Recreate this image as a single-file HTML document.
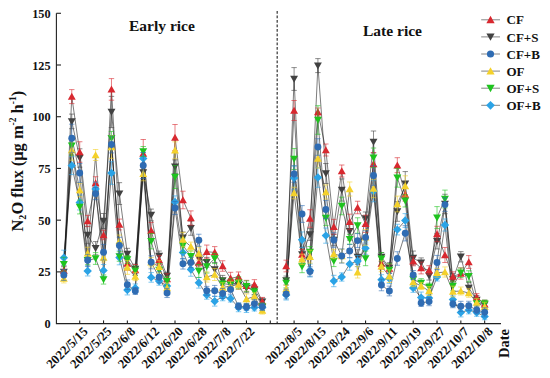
<!DOCTYPE html>
<html><head><meta charset="utf-8"><title>N2O flux</title>
<style>html,body{margin:0;padding:0;background:#fff}body{width:550px;height:378px;position:relative;overflow:hidden;font-family:"Liberation Serif",serif}</style></head>
<body>
<svg width="550" height="378" viewBox="0 0 550 378" style="position:absolute;left:0;top:0">
<rect width="550" height="378" fill="#fff"/>
<polyline points="63.84,272.00 71.78,121.40 79.72,158.00 87.66,235.00 95.60,248.20 103.54,221.00 111.48,112.00 119.42,193.60 127.36,254.00 135.30,269.00 143.24,172.50 151.18,215.00 159.12,256.00 167.06,276.00 175.00,166.80 182.94,237.70 190.88,228.20 198.82,258.00 206.76,262.30 214.70,269.50 222.64,280.40 230.58,283.00 238.52,285.00 246.46,288.00 254.40,289.80 262.34,301.80" fill="none" stroke="#111" stroke-width="0.55" stroke-linejoin="round"/>
<polyline points="286.16,280.50 294.10,79.00 302.04,254.50 309.98,234.50 317.92,65.60 325.86,173.50 333.80,240.00 341.74,190.00 349.68,231.30 357.62,257.00 365.56,218.40 373.50,142.00 381.44,257.00 389.38,268.00 397.32,211.50 405.26,183.70 413.20,258.00 421.14,262.60 429.08,275.80 437.02,241.30 444.96,204.00 452.90,279.50 460.84,256.80 468.78,288.00 476.72,300.00 484.66,304.60" fill="none" stroke="#111" stroke-width="0.55" stroke-linejoin="round"/>
<polyline points="63.84,270.50 71.78,96.60 79.72,152.00 87.66,221.00 95.60,183.00 103.54,235.00 111.48,89.40 119.42,224.50 127.36,263.50 135.30,270.00 143.24,153.50 151.18,230.50 159.12,260.00 167.06,279.00 175.00,137.50 182.94,200.00 190.88,218.00 198.82,262.50 206.76,251.70 214.70,252.40 222.64,266.00 230.58,278.30 238.52,276.80 246.46,285.80 254.40,284.60 262.34,301.50" fill="none" stroke="#111" stroke-width="0.55" stroke-linejoin="round"/>
<polyline points="286.16,266.00 294.10,110.50 302.04,254.50 309.98,218.50 317.92,112.00 325.86,150.00 333.80,226.80 341.74,171.00 349.68,221.70 357.62,207.50 365.56,223.80 373.50,164.00 381.44,263.50 389.38,268.50 397.32,165.20 405.26,194.50 413.20,261.30 421.14,268.00 429.08,270.20 437.02,234.00 444.96,255.00 452.90,276.50 460.84,273.50 468.78,262.00 476.72,297.30 484.66,304.20" fill="none" stroke="#111" stroke-width="0.55" stroke-linejoin="round"/>
<polyline points="63.84,257.70 71.78,165.60 79.72,202.50 87.66,271.00 95.60,189.00 103.54,270.40 111.48,173.00 119.42,257.50 127.36,290.00 135.30,288.00 143.24,158.50 151.18,277.40 159.12,281.00 167.06,286.00 175.00,202.00 182.94,252.40 190.88,269.50 198.82,282.80 206.76,295.00 214.70,301.30 222.64,296.60 230.58,298.60 238.52,307.50 246.46,308.00 254.40,307.50 262.34,307.20" fill="none" stroke="#111" stroke-width="0.55" stroke-linejoin="round"/>
<polyline points="286.16,295.00 294.10,178.00 302.04,239.70 309.98,270.50 317.92,177.50 325.86,235.60 333.80,281.00 341.74,277.00 349.68,264.00 357.62,261.00 365.56,248.20 373.50,191.00 381.44,279.80 389.38,278.50 397.32,229.60 405.26,220.50 413.20,288.00 421.14,297.60 429.08,298.00 437.02,277.00 444.96,225.00 452.90,299.60 460.84,312.50 468.78,310.00 476.72,312.50 484.66,316.40" fill="none" stroke="#111" stroke-width="0.55" stroke-linejoin="round"/>
<polyline points="63.84,264.20 71.78,145.80 79.72,207.00 87.66,260.30 95.60,258.50 103.54,279.50 111.48,138.20 119.42,256.50 127.36,259.50 135.30,270.70 143.24,151.50 151.18,241.20 159.12,270.00 167.06,281.00 175.00,177.00 182.94,245.40 190.88,256.20 198.82,271.00 206.76,266.40 214.70,258.50 222.64,283.60 230.58,284.60 238.52,282.60 246.46,286.30 254.40,291.60 262.34,306.60" fill="none" stroke="#111" stroke-width="0.55" stroke-linejoin="round"/>
<polyline points="286.16,283.00 294.10,159.00 302.04,266.50 309.98,252.00 317.92,120.00 325.86,218.00 333.80,261.00 341.74,206.00 349.68,239.30 357.62,225.50 365.56,258.40 373.50,157.80 381.44,258.80 389.38,269.90 397.32,177.80 405.26,200.80 413.20,279.50 421.14,283.00 429.08,287.00 437.02,217.60 444.96,199.00 452.90,286.00 460.84,272.80 468.78,276.30 476.72,303.50 484.66,303.80" fill="none" stroke="#111" stroke-width="0.55" stroke-linejoin="round"/>
<polyline points="63.84,278.50 71.78,150.00 79.72,190.00 87.66,253.30 95.60,155.00 103.54,257.50 111.48,147.00 119.42,241.00 127.36,267.40 135.30,276.50 143.24,173.80 151.18,262.30 159.12,266.70 167.06,288.00 175.00,150.30 182.94,239.60 190.88,246.60 198.82,253.60 206.76,277.00 214.70,274.50 222.64,287.50 230.58,286.00 238.52,284.60 246.46,299.00 254.40,296.40 262.34,310.60" fill="none" stroke="#111" stroke-width="0.55" stroke-linejoin="round"/>
<polyline points="286.16,289.00 294.10,193.00 302.04,259.30 309.98,256.70 317.92,158.60 325.86,192.00 333.80,254.00 341.74,256.00 349.68,189.00 357.62,272.30 365.56,237.40 373.50,188.50 381.44,266.30 389.38,276.20 397.32,204.00 405.26,186.00 413.20,282.00 421.14,286.00 429.08,291.00 437.02,272.80 444.96,272.00 452.90,291.50 460.84,291.00 468.78,293.00 476.72,302.50 484.66,306.80" fill="none" stroke="#111" stroke-width="0.55" stroke-linejoin="round"/>
<polyline points="63.84,275.00 71.78,138.30 79.72,173.00 87.66,260.30 95.60,193.60 103.54,252.20 111.48,144.50 119.42,245.50 127.36,284.70 135.30,291.00 143.24,165.50 151.18,262.30 159.12,277.30 167.06,293.00 175.00,208.00 182.94,263.80 190.88,262.50 198.82,240.30 206.76,290.80 214.70,290.80 222.64,293.50 230.58,289.40 238.52,306.20 246.46,306.80 254.40,303.60 262.34,306.80" fill="none" stroke="#111" stroke-width="0.55" stroke-linejoin="round"/>
<polyline points="286.16,294.00 294.10,174.00 302.04,214.00 309.98,271.50 317.92,147.00 325.86,209.50 333.80,240.00 341.74,256.00 349.68,251.00 357.62,240.60 365.56,237.40 373.50,175.50 381.44,285.00 389.38,291.00 397.32,258.50 405.26,233.30 413.20,275.00 421.14,303.00 429.08,301.60 437.02,262.50 444.96,204.60 452.90,304.00 460.84,306.30 468.78,305.80 476.72,310.00 484.66,312.30" fill="none" stroke="#111" stroke-width="0.55" stroke-linejoin="round"/>
<g><path d="M63.84,266.76V277.24M61.14,266.76h5.4M61.14,277.24h5.4" stroke="#414141" stroke-width="0.6" fill="none"/><path d="M71.78,114.09V128.71M69.08,114.09h5.4M69.08,128.71h5.4" stroke="#414141" stroke-width="0.6" fill="none"/><path d="M79.72,148.79V167.21M77.02,148.79h5.4M77.02,167.21h5.4" stroke="#414141" stroke-width="0.6" fill="none"/><path d="M87.66,226.21V243.79M84.96,226.21h5.4M84.96,243.79h5.4" stroke="#414141" stroke-width="0.6" fill="none"/><path d="M95.60,241.61V254.79M92.90,241.61h5.4M92.90,254.79h5.4" stroke="#414141" stroke-width="0.6" fill="none"/><path d="M103.54,213.49V228.51M100.84,213.49h5.4M100.84,228.51h5.4" stroke="#414141" stroke-width="0.6" fill="none"/><path d="M111.48,96.38V127.62M108.78,96.38h5.4M108.78,127.62h5.4" stroke="#414141" stroke-width="0.6" fill="none"/><path d="M119.42,182.66V204.54M116.72,182.66h5.4M116.72,204.54h5.4" stroke="#414141" stroke-width="0.6" fill="none"/><path d="M127.36,248.32V259.68M124.66,248.32h5.4M124.66,259.68h5.4" stroke="#414141" stroke-width="0.6" fill="none"/><path d="M135.30,264.13V273.87M132.60,264.13h5.4M132.60,273.87h5.4" stroke="#414141" stroke-width="0.6" fill="none"/><path d="M143.24,166.40V178.60M140.54,166.40h5.4M140.54,178.60h5.4" stroke="#414141" stroke-width="0.6" fill="none"/><path d="M151.18,209.08V220.92M148.48,209.08h5.4M148.48,220.92h5.4" stroke="#414141" stroke-width="0.6" fill="none"/><path d="M159.12,251.05V260.95M156.42,251.05h5.4M156.42,260.95h5.4" stroke="#414141" stroke-width="0.6" fill="none"/><path d="M167.06,272.22V279.78M164.36,272.22h5.4M164.36,279.78h5.4" stroke="#414141" stroke-width="0.6" fill="none"/><path d="M175.00,159.88V173.72M172.30,159.88h5.4M172.30,173.72h5.4" stroke="#414141" stroke-width="0.6" fill="none"/><path d="M182.94,231.98V243.42M180.24,231.98h5.4M180.24,243.42h5.4" stroke="#414141" stroke-width="0.6" fill="none"/><path d="M190.88,221.13V235.27M188.18,221.13h5.4M188.18,235.27h5.4" stroke="#414141" stroke-width="0.6" fill="none"/><path d="M198.82,252.90V263.10M196.12,252.90h5.4M196.12,263.10h5.4" stroke="#414141" stroke-width="0.6" fill="none"/><path d="M206.76,257.40V267.20M204.06,257.40h5.4M204.06,267.20h5.4" stroke="#414141" stroke-width="0.6" fill="none"/><path d="M214.70,262.49V276.51M212.00,262.49h5.4M212.00,276.51h5.4" stroke="#414141" stroke-width="0.6" fill="none"/><path d="M222.64,275.41V285.39M219.94,275.41h5.4M219.94,285.39h5.4" stroke="#414141" stroke-width="0.6" fill="none"/><path d="M230.58,279.30V286.70M227.88,279.30h5.4M227.88,286.70h5.4" stroke="#414141" stroke-width="0.6" fill="none"/><path d="M238.52,280.70V289.30M235.82,280.70h5.4M235.82,289.30h5.4" stroke="#414141" stroke-width="0.6" fill="none"/><path d="M246.46,283.27V292.73M243.76,283.27h5.4M243.76,292.73h5.4" stroke="#414141" stroke-width="0.6" fill="none"/><path d="M254.40,285.07V294.53M251.70,285.07h5.4M251.70,294.53h5.4" stroke="#414141" stroke-width="0.6" fill="none"/><path d="M262.34,298.08V305.52M259.64,298.08h5.4M259.64,305.52h5.4" stroke="#414141" stroke-width="0.6" fill="none"/><path d="M286.16,276.06V284.94M283.46,276.06h5.4M283.46,284.94h5.4" stroke="#414141" stroke-width="0.6" fill="none"/><path d="M294.10,67.60V90.40M291.40,67.60h5.4M291.40,90.40h5.4" stroke="#414141" stroke-width="0.6" fill="none"/><path d="M302.04,247.09V261.91M299.34,247.09h5.4M299.34,261.91h5.4" stroke="#414141" stroke-width="0.6" fill="none"/><path d="M309.98,228.64V240.36M307.28,228.64h5.4M307.28,240.36h5.4" stroke="#414141" stroke-width="0.6" fill="none"/><path d="M317.92,58.60V72.60M315.22,58.60h5.4M315.22,72.60h5.4" stroke="#414141" stroke-width="0.6" fill="none"/><path d="M325.86,163.53V183.47M323.16,163.53h5.4M323.16,183.47h5.4" stroke="#414141" stroke-width="0.6" fill="none"/><path d="M333.80,234.29V245.71M331.10,234.29h5.4M331.10,245.71h5.4" stroke="#414141" stroke-width="0.6" fill="none"/><path d="M341.74,178.91V201.09M339.04,178.91h5.4M339.04,201.09h5.4" stroke="#414141" stroke-width="0.6" fill="none"/><path d="M349.68,222.50V240.10M346.98,222.50h5.4M346.98,240.10h5.4" stroke="#414141" stroke-width="0.6" fill="none"/><path d="M357.62,249.78V264.22M354.92,249.78h5.4M354.92,264.22h5.4" stroke="#414141" stroke-width="0.6" fill="none"/><path d="M365.56,211.97V224.83M362.86,211.97h5.4M362.86,224.83h5.4" stroke="#414141" stroke-width="0.6" fill="none"/><path d="M373.50,131.00V153.00M370.80,131.00h5.4M370.80,153.00h5.4" stroke="#414141" stroke-width="0.6" fill="none"/><path d="M381.44,252.57V261.43M378.74,252.57h5.4M378.74,261.43h5.4" stroke="#414141" stroke-width="0.6" fill="none"/><path d="M389.38,262.67V273.33M386.68,262.67h5.4M386.68,273.33h5.4" stroke="#414141" stroke-width="0.6" fill="none"/><path d="M397.32,201.70V221.30M394.62,201.70h5.4M394.62,221.30h5.4" stroke="#414141" stroke-width="0.6" fill="none"/><path d="M405.26,171.58V195.82M402.56,171.58h5.4M402.56,195.82h5.4" stroke="#414141" stroke-width="0.6" fill="none"/><path d="M413.20,251.04V264.96M410.50,251.04h5.4M410.50,264.96h5.4" stroke="#414141" stroke-width="0.6" fill="none"/><path d="M421.14,257.90V267.30M418.44,257.90h5.4M418.44,267.30h5.4" stroke="#414141" stroke-width="0.6" fill="none"/><path d="M429.08,271.56V280.04M426.38,271.56h5.4M426.38,280.04h5.4" stroke="#414141" stroke-width="0.6" fill="none"/><path d="M437.02,233.65V248.95M434.32,233.65h5.4M434.32,248.95h5.4" stroke="#414141" stroke-width="0.6" fill="none"/><path d="M444.96,194.27V213.73M442.26,194.27h5.4M442.26,213.73h5.4" stroke="#414141" stroke-width="0.6" fill="none"/><path d="M452.90,273.67V285.33M450.20,273.67h5.4M450.20,285.33h5.4" stroke="#414141" stroke-width="0.6" fill="none"/><path d="M460.84,251.65V261.95M458.14,251.65h5.4M458.14,261.95h5.4" stroke="#414141" stroke-width="0.6" fill="none"/><path d="M468.78,282.22V293.78M466.08,282.22h5.4M466.08,293.78h5.4" stroke="#414141" stroke-width="0.6" fill="none"/><path d="M476.72,295.50V304.50M474.02,295.50h5.4M474.02,304.50h5.4" stroke="#414141" stroke-width="0.6" fill="none"/><path d="M484.66,300.30V308.90M481.96,300.30h5.4M481.96,308.90h5.4" stroke="#414141" stroke-width="0.6" fill="none"/><polygon points="59.89,268.80 67.79,268.80 63.84,275.80" fill="#414141"/><polygon points="67.83,118.20 75.73,118.20 71.78,125.20" fill="#414141"/><polygon points="75.77,154.80 83.67,154.80 79.72,161.80" fill="#414141"/><polygon points="83.71,231.80 91.61,231.80 87.66,238.80" fill="#414141"/><polygon points="91.65,245.00 99.55,245.00 95.60,252.00" fill="#414141"/><polygon points="99.59,217.80 107.49,217.80 103.54,224.80" fill="#414141"/><polygon points="107.53,108.80 115.43,108.80 111.48,115.80" fill="#414141"/><polygon points="115.47,190.40 123.37,190.40 119.42,197.40" fill="#414141"/><polygon points="123.41,250.80 131.31,250.80 127.36,257.80" fill="#414141"/><polygon points="131.35,265.80 139.25,265.80 135.30,272.80" fill="#414141"/><polygon points="139.29,169.30 147.19,169.30 143.24,176.30" fill="#414141"/><polygon points="147.23,211.80 155.13,211.80 151.18,218.80" fill="#414141"/><polygon points="155.17,252.80 163.07,252.80 159.12,259.80" fill="#414141"/><polygon points="163.11,272.80 171.01,272.80 167.06,279.80" fill="#414141"/><polygon points="171.05,163.60 178.95,163.60 175.00,170.60" fill="#414141"/><polygon points="178.99,234.50 186.89,234.50 182.94,241.50" fill="#414141"/><polygon points="186.93,225.00 194.83,225.00 190.88,232.00" fill="#414141"/><polygon points="194.87,254.80 202.77,254.80 198.82,261.80" fill="#414141"/><polygon points="202.81,259.10 210.71,259.10 206.76,266.10" fill="#414141"/><polygon points="210.75,266.30 218.65,266.30 214.70,273.30" fill="#414141"/><polygon points="218.69,277.20 226.59,277.20 222.64,284.20" fill="#414141"/><polygon points="226.63,279.80 234.53,279.80 230.58,286.80" fill="#414141"/><polygon points="234.57,281.80 242.47,281.80 238.52,288.80" fill="#414141"/><polygon points="242.51,284.80 250.41,284.80 246.46,291.80" fill="#414141"/><polygon points="250.45,286.60 258.35,286.60 254.40,293.60" fill="#414141"/><polygon points="258.39,298.60 266.29,298.60 262.34,305.60" fill="#414141"/><polygon points="282.21,277.30 290.11,277.30 286.16,284.30" fill="#414141"/><polygon points="290.15,75.80 298.05,75.80 294.10,82.80" fill="#414141"/><polygon points="298.09,251.30 305.99,251.30 302.04,258.30" fill="#414141"/><polygon points="306.03,231.30 313.93,231.30 309.98,238.30" fill="#414141"/><polygon points="313.97,62.40 321.87,62.40 317.92,69.40" fill="#414141"/><polygon points="321.91,170.30 329.81,170.30 325.86,177.30" fill="#414141"/><polygon points="329.85,236.80 337.75,236.80 333.80,243.80" fill="#414141"/><polygon points="337.79,186.80 345.69,186.80 341.74,193.80" fill="#414141"/><polygon points="345.73,228.10 353.63,228.10 349.68,235.10" fill="#414141"/><polygon points="353.67,253.80 361.57,253.80 357.62,260.80" fill="#414141"/><polygon points="361.61,215.20 369.51,215.20 365.56,222.20" fill="#414141"/><polygon points="369.55,138.80 377.45,138.80 373.50,145.80" fill="#414141"/><polygon points="377.49,253.80 385.39,253.80 381.44,260.80" fill="#414141"/><polygon points="385.43,264.80 393.33,264.80 389.38,271.80" fill="#414141"/><polygon points="393.37,208.30 401.27,208.30 397.32,215.30" fill="#414141"/><polygon points="401.31,180.50 409.21,180.50 405.26,187.50" fill="#414141"/><polygon points="409.25,254.80 417.15,254.80 413.20,261.80" fill="#414141"/><polygon points="417.19,259.40 425.09,259.40 421.14,266.40" fill="#414141"/><polygon points="425.13,272.60 433.03,272.60 429.08,279.60" fill="#414141"/><polygon points="433.07,238.10 440.97,238.10 437.02,245.10" fill="#414141"/><polygon points="441.01,200.80 448.91,200.80 444.96,207.80" fill="#414141"/><polygon points="448.95,276.30 456.85,276.30 452.90,283.30" fill="#414141"/><polygon points="456.89,253.60 464.79,253.60 460.84,260.60" fill="#414141"/><polygon points="464.83,284.80 472.73,284.80 468.78,291.80" fill="#414141"/><polygon points="472.77,296.80 480.67,296.80 476.72,303.80" fill="#414141"/><polygon points="480.71,301.40 488.61,301.40 484.66,308.40" fill="#414141"/></g>
<g><path d="M63.84,265.92V275.08M61.14,265.92h5.4M61.14,275.08h5.4" stroke="#d8282f" stroke-width="0.6" fill="none"/><path d="M71.78,89.60V103.60M69.08,89.60h5.4M69.08,103.60h5.4" stroke="#d8282f" stroke-width="0.6" fill="none"/><path d="M79.72,141.74V162.26M77.02,141.74h5.4M77.02,162.26h5.4" stroke="#d8282f" stroke-width="0.6" fill="none"/><path d="M87.66,215.35V226.65M84.96,215.35h5.4M84.96,226.65h5.4" stroke="#d8282f" stroke-width="0.6" fill="none"/><path d="M95.60,176.73V189.27M92.90,176.73h5.4M92.90,189.27h5.4" stroke="#d8282f" stroke-width="0.6" fill="none"/><path d="M103.54,230.24V239.76M100.84,230.24h5.4M100.84,239.76h5.4" stroke="#d8282f" stroke-width="0.6" fill="none"/><path d="M111.48,78.60V100.20M108.78,78.60h5.4M108.78,100.20h5.4" stroke="#d8282f" stroke-width="0.6" fill="none"/><path d="M119.42,219.09V229.91M116.72,219.09h5.4M116.72,229.91h5.4" stroke="#d8282f" stroke-width="0.6" fill="none"/><path d="M127.36,256.77V270.23M124.66,256.77h5.4M124.66,270.23h5.4" stroke="#d8282f" stroke-width="0.6" fill="none"/><path d="M135.30,264.50V275.50M132.60,264.50h5.4M132.60,275.50h5.4" stroke="#d8282f" stroke-width="0.6" fill="none"/><path d="M143.24,139.50V167.50M140.54,139.50h5.4M140.54,167.50h5.4" stroke="#d8282f" stroke-width="0.6" fill="none"/><path d="M151.18,222.41V238.59M148.48,222.41h5.4M148.48,238.59h5.4" stroke="#d8282f" stroke-width="0.6" fill="none"/><path d="M159.12,255.58V264.42M156.42,255.58h5.4M156.42,264.42h5.4" stroke="#d8282f" stroke-width="0.6" fill="none"/><path d="M167.06,273.73V284.27M164.36,273.73h5.4M164.36,284.27h5.4" stroke="#d8282f" stroke-width="0.6" fill="none"/><path d="M175.00,124.50V150.50M172.30,124.50h5.4M172.30,150.50h5.4" stroke="#d8282f" stroke-width="0.6" fill="none"/><path d="M182.94,191.21V208.79M180.24,191.21h5.4M180.24,208.79h5.4" stroke="#d8282f" stroke-width="0.6" fill="none"/><path d="M190.88,210.88V225.12M188.18,210.88h5.4M188.18,225.12h5.4" stroke="#d8282f" stroke-width="0.6" fill="none"/><path d="M198.82,258.22V266.78M196.12,258.22h5.4M196.12,266.78h5.4" stroke="#d8282f" stroke-width="0.6" fill="none"/><path d="M206.76,245.06V258.34M204.06,245.06h5.4M204.06,258.34h5.4" stroke="#d8282f" stroke-width="0.6" fill="none"/><path d="M214.70,246.60V258.20M212.00,246.60h5.4M212.00,258.20h5.4" stroke="#d8282f" stroke-width="0.6" fill="none"/><path d="M222.64,260.75V271.25M219.94,260.75h5.4M219.94,271.25h5.4" stroke="#d8282f" stroke-width="0.6" fill="none"/><path d="M230.58,272.31V284.29M227.88,272.31h5.4M227.88,284.29h5.4" stroke="#d8282f" stroke-width="0.6" fill="none"/><path d="M238.52,271.95V281.65M235.82,271.95h5.4M235.82,281.65h5.4" stroke="#d8282f" stroke-width="0.6" fill="none"/><path d="M246.46,280.34V291.26M243.76,280.34h5.4M243.76,291.26h5.4" stroke="#d8282f" stroke-width="0.6" fill="none"/><path d="M254.40,279.65V289.55M251.70,279.65h5.4M251.70,289.55h5.4" stroke="#d8282f" stroke-width="0.6" fill="none"/><path d="M262.34,297.41V305.59M259.64,297.41h5.4M259.64,305.59h5.4" stroke="#d8282f" stroke-width="0.6" fill="none"/><path d="M286.16,260.15V271.85M283.46,260.15h5.4M283.46,271.85h5.4" stroke="#d8282f" stroke-width="0.6" fill="none"/><path d="M294.10,100.50V120.50M291.40,100.50h5.4M291.40,120.50h5.4" stroke="#d8282f" stroke-width="0.6" fill="none"/><path d="M302.04,249.41V259.59M299.34,249.41h5.4M299.34,259.59h5.4" stroke="#d8282f" stroke-width="0.6" fill="none"/><path d="M309.98,209.72V227.28M307.28,209.72h5.4M307.28,227.28h5.4" stroke="#d8282f" stroke-width="0.6" fill="none"/><path d="M317.92,108.00V116.00M315.22,108.00h5.4M315.22,116.00h5.4" stroke="#d8282f" stroke-width="0.6" fill="none"/><path d="M325.86,144.00V156.00M323.16,144.00h5.4M323.16,156.00h5.4" stroke="#d8282f" stroke-width="0.6" fill="none"/><path d="M333.80,219.33V234.27M331.10,219.33h5.4M331.10,234.27h5.4" stroke="#d8282f" stroke-width="0.6" fill="none"/><path d="M341.74,165.00V177.00M339.04,165.00h5.4M339.04,177.00h5.4" stroke="#d8282f" stroke-width="0.6" fill="none"/><path d="M349.68,214.13V229.27M346.98,214.13h5.4M346.98,229.27h5.4" stroke="#d8282f" stroke-width="0.6" fill="none"/><path d="M357.62,201.24V213.76M354.92,201.24h5.4M354.92,213.76h5.4" stroke="#d8282f" stroke-width="0.6" fill="none"/><path d="M365.56,215.13V232.47M362.86,215.13h5.4M362.86,232.47h5.4" stroke="#d8282f" stroke-width="0.6" fill="none"/><path d="M373.50,152.53V175.47M370.80,152.53h5.4M370.80,175.47h5.4" stroke="#d8282f" stroke-width="0.6" fill="none"/><path d="M381.44,257.77V269.23M378.74,257.77h5.4M378.74,269.23h5.4" stroke="#d8282f" stroke-width="0.6" fill="none"/><path d="M389.38,264.06V272.94M386.68,264.06h5.4M386.68,272.94h5.4" stroke="#d8282f" stroke-width="0.6" fill="none"/><path d="M397.32,157.70V172.70M394.62,157.70h5.4M394.62,172.70h5.4" stroke="#d8282f" stroke-width="0.6" fill="none"/><path d="M405.26,187.86V201.14M402.56,187.86h5.4M402.56,201.14h5.4" stroke="#d8282f" stroke-width="0.6" fill="none"/><path d="M413.20,256.76V265.84M410.50,256.76h5.4M410.50,265.84h5.4" stroke="#d8282f" stroke-width="0.6" fill="none"/><path d="M421.14,262.11V273.89M418.44,262.11h5.4M418.44,273.89h5.4" stroke="#d8282f" stroke-width="0.6" fill="none"/><path d="M429.08,265.69V274.71M426.38,265.69h5.4M426.38,274.71h5.4" stroke="#d8282f" stroke-width="0.6" fill="none"/><path d="M437.02,226.31V241.69M434.32,226.31h5.4M434.32,241.69h5.4" stroke="#d8282f" stroke-width="0.6" fill="none"/><path d="M444.96,247.48V262.52M442.26,247.48h5.4M442.26,262.52h5.4" stroke="#d8282f" stroke-width="0.6" fill="none"/><path d="M452.90,271.81V281.19M450.20,271.81h5.4M450.20,281.19h5.4" stroke="#d8282f" stroke-width="0.6" fill="none"/><path d="M460.84,267.85V279.15M458.14,267.85h5.4M458.14,279.15h5.4" stroke="#d8282f" stroke-width="0.6" fill="none"/><path d="M468.78,255.58V268.42M466.08,255.58h5.4M466.08,268.42h5.4" stroke="#d8282f" stroke-width="0.6" fill="none"/><path d="M476.72,293.64V300.96M474.02,293.64h5.4M474.02,300.96h5.4" stroke="#d8282f" stroke-width="0.6" fill="none"/><path d="M484.66,300.30V308.10M481.96,300.30h5.4M481.96,308.10h5.4" stroke="#d8282f" stroke-width="0.6" fill="none"/><polygon points="59.89,273.70 67.79,273.70 63.84,266.70" fill="#d8282f"/><polygon points="67.83,99.80 75.73,99.80 71.78,92.80" fill="#d8282f"/><polygon points="75.77,155.20 83.67,155.20 79.72,148.20" fill="#d8282f"/><polygon points="83.71,224.20 91.61,224.20 87.66,217.20" fill="#d8282f"/><polygon points="91.65,186.20 99.55,186.20 95.60,179.20" fill="#d8282f"/><polygon points="99.59,238.20 107.49,238.20 103.54,231.20" fill="#d8282f"/><polygon points="107.53,92.60 115.43,92.60 111.48,85.60" fill="#d8282f"/><polygon points="115.47,227.70 123.37,227.70 119.42,220.70" fill="#d8282f"/><polygon points="123.41,266.70 131.31,266.70 127.36,259.70" fill="#d8282f"/><polygon points="131.35,273.20 139.25,273.20 135.30,266.20" fill="#d8282f"/><polygon points="139.29,156.70 147.19,156.70 143.24,149.70" fill="#d8282f"/><polygon points="147.23,233.70 155.13,233.70 151.18,226.70" fill="#d8282f"/><polygon points="155.17,263.20 163.07,263.20 159.12,256.20" fill="#d8282f"/><polygon points="163.11,282.20 171.01,282.20 167.06,275.20" fill="#d8282f"/><polygon points="171.05,140.70 178.95,140.70 175.00,133.70" fill="#d8282f"/><polygon points="178.99,203.20 186.89,203.20 182.94,196.20" fill="#d8282f"/><polygon points="186.93,221.20 194.83,221.20 190.88,214.20" fill="#d8282f"/><polygon points="194.87,265.70 202.77,265.70 198.82,258.70" fill="#d8282f"/><polygon points="202.81,254.90 210.71,254.90 206.76,247.90" fill="#d8282f"/><polygon points="210.75,255.60 218.65,255.60 214.70,248.60" fill="#d8282f"/><polygon points="218.69,269.20 226.59,269.20 222.64,262.20" fill="#d8282f"/><polygon points="226.63,281.50 234.53,281.50 230.58,274.50" fill="#d8282f"/><polygon points="234.57,280.00 242.47,280.00 238.52,273.00" fill="#d8282f"/><polygon points="242.51,289.00 250.41,289.00 246.46,282.00" fill="#d8282f"/><polygon points="250.45,287.80 258.35,287.80 254.40,280.80" fill="#d8282f"/><polygon points="258.39,304.70 266.29,304.70 262.34,297.70" fill="#d8282f"/><polygon points="282.21,269.20 290.11,269.20 286.16,262.20" fill="#d8282f"/><polygon points="290.15,113.70 298.05,113.70 294.10,106.70" fill="#d8282f"/><polygon points="298.09,257.70 305.99,257.70 302.04,250.70" fill="#d8282f"/><polygon points="306.03,221.70 313.93,221.70 309.98,214.70" fill="#d8282f"/><polygon points="313.97,115.20 321.87,115.20 317.92,108.20" fill="#d8282f"/><polygon points="321.91,153.20 329.81,153.20 325.86,146.20" fill="#d8282f"/><polygon points="329.85,230.00 337.75,230.00 333.80,223.00" fill="#d8282f"/><polygon points="337.79,174.20 345.69,174.20 341.74,167.20" fill="#d8282f"/><polygon points="345.73,224.90 353.63,224.90 349.68,217.90" fill="#d8282f"/><polygon points="353.67,210.70 361.57,210.70 357.62,203.70" fill="#d8282f"/><polygon points="361.61,227.00 369.51,227.00 365.56,220.00" fill="#d8282f"/><polygon points="369.55,167.20 377.45,167.20 373.50,160.20" fill="#d8282f"/><polygon points="377.49,266.70 385.39,266.70 381.44,259.70" fill="#d8282f"/><polygon points="385.43,271.70 393.33,271.70 389.38,264.70" fill="#d8282f"/><polygon points="393.37,168.40 401.27,168.40 397.32,161.40" fill="#d8282f"/><polygon points="401.31,197.70 409.21,197.70 405.26,190.70" fill="#d8282f"/><polygon points="409.25,264.50 417.15,264.50 413.20,257.50" fill="#d8282f"/><polygon points="417.19,271.20 425.09,271.20 421.14,264.20" fill="#d8282f"/><polygon points="425.13,273.40 433.03,273.40 429.08,266.40" fill="#d8282f"/><polygon points="433.07,237.20 440.97,237.20 437.02,230.20" fill="#d8282f"/><polygon points="441.01,258.20 448.91,258.20 444.96,251.20" fill="#d8282f"/><polygon points="448.95,279.70 456.85,279.70 452.90,272.70" fill="#d8282f"/><polygon points="456.89,276.70 464.79,276.70 460.84,269.70" fill="#d8282f"/><polygon points="464.83,265.20 472.73,265.20 468.78,258.20" fill="#d8282f"/><polygon points="472.77,300.50 480.67,300.50 476.72,293.50" fill="#d8282f"/><polygon points="480.71,307.40 488.61,307.40 484.66,300.40" fill="#d8282f"/></g>
<g><path d="M63.84,250.17V265.23M61.14,250.17h5.4M61.14,265.23h5.4" stroke="#2ba3e6" stroke-width="0.6" fill="none"/><path d="M71.78,156.60V174.60M69.08,156.60h5.4M69.08,174.60h5.4" stroke="#2ba3e6" stroke-width="0.6" fill="none"/><path d="M79.72,195.04V209.96M77.02,195.04h5.4M77.02,209.96h5.4" stroke="#2ba3e6" stroke-width="0.6" fill="none"/><path d="M87.66,266.03V275.97M84.96,266.03h5.4M84.96,275.97h5.4" stroke="#2ba3e6" stroke-width="0.6" fill="none"/><path d="M95.60,182.16V195.84M92.90,182.16h5.4M92.90,195.84h5.4" stroke="#2ba3e6" stroke-width="0.6" fill="none"/><path d="M103.54,264.51V276.29M100.84,264.51h5.4M100.84,276.29h5.4" stroke="#2ba3e6" stroke-width="0.6" fill="none"/><path d="M111.48,161.68V184.32M108.78,161.68h5.4M108.78,184.32h5.4" stroke="#2ba3e6" stroke-width="0.6" fill="none"/><path d="M119.42,250.18V264.82M116.72,250.18h5.4M116.72,264.82h5.4" stroke="#2ba3e6" stroke-width="0.6" fill="none"/><path d="M127.36,285.07V294.93M124.66,285.07h5.4M124.66,294.93h5.4" stroke="#2ba3e6" stroke-width="0.6" fill="none"/><path d="M135.30,283.96V292.04M132.60,283.96h5.4M132.60,292.04h5.4" stroke="#2ba3e6" stroke-width="0.6" fill="none"/><path d="M143.24,152.50V164.50M140.54,152.50h5.4M140.54,164.50h5.4" stroke="#2ba3e6" stroke-width="0.6" fill="none"/><path d="M151.18,272.59V282.21M148.48,272.59h5.4M148.48,282.21h5.4" stroke="#2ba3e6" stroke-width="0.6" fill="none"/><path d="M159.12,276.79V285.21M156.42,276.79h5.4M156.42,285.21h5.4" stroke="#2ba3e6" stroke-width="0.6" fill="none"/><path d="M167.06,280.91V291.09M164.36,280.91h5.4M164.36,291.09h5.4" stroke="#2ba3e6" stroke-width="0.6" fill="none"/><path d="M175.00,195.83V208.17M172.30,195.83h5.4M172.30,208.17h5.4" stroke="#2ba3e6" stroke-width="0.6" fill="none"/><path d="M182.94,245.81V258.99M180.24,245.81h5.4M180.24,258.99h5.4" stroke="#2ba3e6" stroke-width="0.6" fill="none"/><path d="M190.88,262.74V276.26M188.18,262.74h5.4M188.18,276.26h5.4" stroke="#2ba3e6" stroke-width="0.6" fill="none"/><path d="M198.82,277.48V288.12M196.12,277.48h5.4M196.12,288.12h5.4" stroke="#2ba3e6" stroke-width="0.6" fill="none"/><path d="M206.76,290.81V299.19M204.06,290.81h5.4M204.06,299.19h5.4" stroke="#2ba3e6" stroke-width="0.6" fill="none"/><path d="M214.70,296.48V306.12M212.00,296.48h5.4M212.00,306.12h5.4" stroke="#2ba3e6" stroke-width="0.6" fill="none"/><path d="M222.64,292.43V300.77M219.94,292.43h5.4M219.94,300.77h5.4" stroke="#2ba3e6" stroke-width="0.6" fill="none"/><path d="M230.58,295.15V302.05M227.88,295.15h5.4M227.88,302.05h5.4" stroke="#2ba3e6" stroke-width="0.6" fill="none"/><path d="M238.52,303.26V311.74M235.82,303.26h5.4M235.82,311.74h5.4" stroke="#2ba3e6" stroke-width="0.6" fill="none"/><path d="M246.46,303.51V312.49M243.76,303.51h5.4M243.76,312.49h5.4" stroke="#2ba3e6" stroke-width="0.6" fill="none"/><path d="M254.40,304.02V310.98M251.70,304.02h5.4M251.70,310.98h5.4" stroke="#2ba3e6" stroke-width="0.6" fill="none"/><path d="M262.34,303.65V310.75M259.64,303.65h5.4M259.64,310.75h5.4" stroke="#2ba3e6" stroke-width="0.6" fill="none"/><path d="M286.16,289.97V300.03M283.46,289.97h5.4M283.46,300.03h5.4" stroke="#2ba3e6" stroke-width="0.6" fill="none"/><path d="M294.10,166.12V189.88M291.40,166.12h5.4M291.40,189.88h5.4" stroke="#2ba3e6" stroke-width="0.6" fill="none"/><path d="M302.04,231.93V247.47M299.34,231.93h5.4M299.34,247.47h5.4" stroke="#2ba3e6" stroke-width="0.6" fill="none"/><path d="M309.98,264.02V276.98M307.28,264.02h5.4M307.28,276.98h5.4" stroke="#2ba3e6" stroke-width="0.6" fill="none"/><path d="M317.92,167.70V187.30M315.22,167.70h5.4M315.22,187.30h5.4" stroke="#2ba3e6" stroke-width="0.6" fill="none"/><path d="M325.86,227.99V243.21M323.16,227.99h5.4M323.16,243.21h5.4" stroke="#2ba3e6" stroke-width="0.6" fill="none"/><path d="M333.80,275.30V286.70M331.10,275.30h5.4M331.10,286.70h5.4" stroke="#2ba3e6" stroke-width="0.6" fill="none"/><path d="M341.74,272.86V281.14M339.04,272.86h5.4M339.04,281.14h5.4" stroke="#2ba3e6" stroke-width="0.6" fill="none"/><path d="M349.68,257.81V270.19M346.98,257.81h5.4M346.98,270.19h5.4" stroke="#2ba3e6" stroke-width="0.6" fill="none"/><path d="M357.62,255.45V266.55M354.92,255.45h5.4M354.92,266.55h5.4" stroke="#2ba3e6" stroke-width="0.6" fill="none"/><path d="M365.56,242.09V254.31M362.86,242.09h5.4M362.86,254.31h5.4" stroke="#2ba3e6" stroke-width="0.6" fill="none"/><path d="M373.50,180.18V201.82M370.80,180.18h5.4M370.80,201.82h5.4" stroke="#2ba3e6" stroke-width="0.6" fill="none"/><path d="M381.44,274.72V284.88M378.74,274.72h5.4M378.74,284.88h5.4" stroke="#2ba3e6" stroke-width="0.6" fill="none"/><path d="M389.38,273.40V283.60M386.68,273.40h5.4M386.68,283.60h5.4" stroke="#2ba3e6" stroke-width="0.6" fill="none"/><path d="M397.32,224.25V234.95M394.62,224.25h5.4M394.62,234.95h5.4" stroke="#2ba3e6" stroke-width="0.6" fill="none"/><path d="M405.26,213.62V227.38M402.56,213.62h5.4M402.56,227.38h5.4" stroke="#2ba3e6" stroke-width="0.6" fill="none"/><path d="M413.20,283.65V292.35M410.50,283.65h5.4M410.50,292.35h5.4" stroke="#2ba3e6" stroke-width="0.6" fill="none"/><path d="M421.14,292.04V303.16M418.44,292.04h5.4M418.44,303.16h5.4" stroke="#2ba3e6" stroke-width="0.6" fill="none"/><path d="M429.08,294.22V301.78M426.38,294.22h5.4M426.38,301.78h5.4" stroke="#2ba3e6" stroke-width="0.6" fill="none"/><path d="M437.02,272.97V281.03M434.32,272.97h5.4M434.32,281.03h5.4" stroke="#2ba3e6" stroke-width="0.6" fill="none"/><path d="M444.96,218.94V231.06M442.26,218.94h5.4M442.26,231.06h5.4" stroke="#2ba3e6" stroke-width="0.6" fill="none"/><path d="M452.90,295.90V303.30M450.20,295.90h5.4M450.20,303.30h5.4" stroke="#2ba3e6" stroke-width="0.6" fill="none"/><path d="M460.84,308.09V316.91M458.14,308.09h5.4M458.14,316.91h5.4" stroke="#2ba3e6" stroke-width="0.6" fill="none"/><path d="M468.78,306.10V313.90M466.08,306.10h5.4M466.08,313.90h5.4" stroke="#2ba3e6" stroke-width="0.6" fill="none"/><path d="M476.72,308.71V316.29M474.02,308.71h5.4M474.02,316.29h5.4" stroke="#2ba3e6" stroke-width="0.6" fill="none"/><path d="M484.66,313.04V319.76M481.96,313.04h5.4M481.96,319.76h5.4" stroke="#2ba3e6" stroke-width="0.6" fill="none"/><polygon points="59.64,257.70 63.84,253.50 68.04,257.70 63.84,261.90" fill="#2ba3e6"/><polygon points="67.58,165.60 71.78,161.40 75.98,165.60 71.78,169.80" fill="#2ba3e6"/><polygon points="75.52,202.50 79.72,198.30 83.92,202.50 79.72,206.70" fill="#2ba3e6"/><polygon points="83.46,271.00 87.66,266.80 91.86,271.00 87.66,275.20" fill="#2ba3e6"/><polygon points="91.40,189.00 95.60,184.80 99.80,189.00 95.60,193.20" fill="#2ba3e6"/><polygon points="99.34,270.40 103.54,266.20 107.74,270.40 103.54,274.60" fill="#2ba3e6"/><polygon points="107.28,173.00 111.48,168.80 115.68,173.00 111.48,177.20" fill="#2ba3e6"/><polygon points="115.22,257.50 119.42,253.30 123.62,257.50 119.42,261.70" fill="#2ba3e6"/><polygon points="123.16,290.00 127.36,285.80 131.56,290.00 127.36,294.20" fill="#2ba3e6"/><polygon points="131.10,288.00 135.30,283.80 139.50,288.00 135.30,292.20" fill="#2ba3e6"/><polygon points="139.04,158.50 143.24,154.30 147.44,158.50 143.24,162.70" fill="#2ba3e6"/><polygon points="146.98,277.40 151.18,273.20 155.38,277.40 151.18,281.60" fill="#2ba3e6"/><polygon points="154.92,281.00 159.12,276.80 163.32,281.00 159.12,285.20" fill="#2ba3e6"/><polygon points="162.86,286.00 167.06,281.80 171.26,286.00 167.06,290.20" fill="#2ba3e6"/><polygon points="170.80,202.00 175.00,197.80 179.20,202.00 175.00,206.20" fill="#2ba3e6"/><polygon points="178.74,252.40 182.94,248.20 187.14,252.40 182.94,256.60" fill="#2ba3e6"/><polygon points="186.68,269.50 190.88,265.30 195.08,269.50 190.88,273.70" fill="#2ba3e6"/><polygon points="194.62,282.80 198.82,278.60 203.02,282.80 198.82,287.00" fill="#2ba3e6"/><polygon points="202.56,295.00 206.76,290.80 210.96,295.00 206.76,299.20" fill="#2ba3e6"/><polygon points="210.50,301.30 214.70,297.10 218.90,301.30 214.70,305.50" fill="#2ba3e6"/><polygon points="218.44,296.60 222.64,292.40 226.84,296.60 222.64,300.80" fill="#2ba3e6"/><polygon points="226.38,298.60 230.58,294.40 234.78,298.60 230.58,302.80" fill="#2ba3e6"/><polygon points="234.32,307.50 238.52,303.30 242.72,307.50 238.52,311.70" fill="#2ba3e6"/><polygon points="242.26,308.00 246.46,303.80 250.66,308.00 246.46,312.20" fill="#2ba3e6"/><polygon points="250.20,307.50 254.40,303.30 258.60,307.50 254.40,311.70" fill="#2ba3e6"/><polygon points="258.14,307.20 262.34,303.00 266.54,307.20 262.34,311.40" fill="#2ba3e6"/><polygon points="281.96,295.00 286.16,290.80 290.36,295.00 286.16,299.20" fill="#2ba3e6"/><polygon points="289.90,178.00 294.10,173.80 298.30,178.00 294.10,182.20" fill="#2ba3e6"/><polygon points="297.84,239.70 302.04,235.50 306.24,239.70 302.04,243.90" fill="#2ba3e6"/><polygon points="305.78,270.50 309.98,266.30 314.18,270.50 309.98,274.70" fill="#2ba3e6"/><polygon points="313.72,177.50 317.92,173.30 322.12,177.50 317.92,181.70" fill="#2ba3e6"/><polygon points="321.66,235.60 325.86,231.40 330.06,235.60 325.86,239.80" fill="#2ba3e6"/><polygon points="329.60,281.00 333.80,276.80 338.00,281.00 333.80,285.20" fill="#2ba3e6"/><polygon points="337.54,277.00 341.74,272.80 345.94,277.00 341.74,281.20" fill="#2ba3e6"/><polygon points="345.48,264.00 349.68,259.80 353.88,264.00 349.68,268.20" fill="#2ba3e6"/><polygon points="353.42,261.00 357.62,256.80 361.82,261.00 357.62,265.20" fill="#2ba3e6"/><polygon points="361.36,248.20 365.56,244.00 369.76,248.20 365.56,252.40" fill="#2ba3e6"/><polygon points="369.30,191.00 373.50,186.80 377.70,191.00 373.50,195.20" fill="#2ba3e6"/><polygon points="377.24,279.80 381.44,275.60 385.64,279.80 381.44,284.00" fill="#2ba3e6"/><polygon points="385.18,278.50 389.38,274.30 393.58,278.50 389.38,282.70" fill="#2ba3e6"/><polygon points="393.12,229.60 397.32,225.40 401.52,229.60 397.32,233.80" fill="#2ba3e6"/><polygon points="401.06,220.50 405.26,216.30 409.46,220.50 405.26,224.70" fill="#2ba3e6"/><polygon points="409.00,288.00 413.20,283.80 417.40,288.00 413.20,292.20" fill="#2ba3e6"/><polygon points="416.94,297.60 421.14,293.40 425.34,297.60 421.14,301.80" fill="#2ba3e6"/><polygon points="424.88,298.00 429.08,293.80 433.28,298.00 429.08,302.20" fill="#2ba3e6"/><polygon points="432.82,277.00 437.02,272.80 441.22,277.00 437.02,281.20" fill="#2ba3e6"/><polygon points="440.76,225.00 444.96,220.80 449.16,225.00 444.96,229.20" fill="#2ba3e6"/><polygon points="448.70,299.60 452.90,295.40 457.10,299.60 452.90,303.80" fill="#2ba3e6"/><polygon points="456.64,312.50 460.84,308.30 465.04,312.50 460.84,316.70" fill="#2ba3e6"/><polygon points="464.58,310.00 468.78,305.80 472.98,310.00 468.78,314.20" fill="#2ba3e6"/><polygon points="472.52,312.50 476.72,308.30 480.92,312.50 476.72,316.70" fill="#2ba3e6"/><polygon points="480.46,316.40 484.66,312.20 488.86,316.40 484.66,320.60" fill="#2ba3e6"/></g>
<g><path d="M63.84,257.28V271.12M61.14,257.28h5.4M61.14,271.12h5.4" stroke="#1ec31e" stroke-width="0.6" fill="none"/><path d="M71.78,136.46V155.14M69.08,136.46h5.4M69.08,155.14h5.4" stroke="#1ec31e" stroke-width="0.6" fill="none"/><path d="M79.72,200.09V213.91M77.02,200.09h5.4M77.02,213.91h5.4" stroke="#1ec31e" stroke-width="0.6" fill="none"/><path d="M87.66,255.86V264.74M84.96,255.86h5.4M84.96,264.74h5.4" stroke="#1ec31e" stroke-width="0.6" fill="none"/><path d="M95.60,252.61V264.39M92.90,252.61h5.4M92.90,264.39h5.4" stroke="#1ec31e" stroke-width="0.6" fill="none"/><path d="M103.54,274.91V284.09M100.84,274.91h5.4M100.84,284.09h5.4" stroke="#1ec31e" stroke-width="0.6" fill="none"/><path d="M111.48,131.46V144.94M108.78,131.46h5.4M108.78,144.94h5.4" stroke="#1ec31e" stroke-width="0.6" fill="none"/><path d="M119.42,251.72V261.28M116.72,251.72h5.4M116.72,261.28h5.4" stroke="#1ec31e" stroke-width="0.6" fill="none"/><path d="M127.36,255.48V263.52M124.66,255.48h5.4M124.66,263.52h5.4" stroke="#1ec31e" stroke-width="0.6" fill="none"/><path d="M135.30,266.05V275.35M132.60,266.05h5.4M132.60,275.35h5.4" stroke="#1ec31e" stroke-width="0.6" fill="none"/><path d="M143.24,146.50V156.50M140.54,146.50h5.4M140.54,156.50h5.4" stroke="#1ec31e" stroke-width="0.6" fill="none"/><path d="M151.18,233.49V248.91M148.48,233.49h5.4M148.48,248.91h5.4" stroke="#1ec31e" stroke-width="0.6" fill="none"/><path d="M159.12,263.47V276.53M156.42,263.47h5.4M156.42,276.53h5.4" stroke="#1ec31e" stroke-width="0.6" fill="none"/><path d="M167.06,276.40V285.60M164.36,276.40h5.4M164.36,285.60h5.4" stroke="#1ec31e" stroke-width="0.6" fill="none"/><path d="M175.00,165.47V188.53M172.30,165.47h5.4M172.30,188.53h5.4" stroke="#1ec31e" stroke-width="0.6" fill="none"/><path d="M182.94,238.01V252.79M180.24,238.01h5.4M180.24,252.79h5.4" stroke="#1ec31e" stroke-width="0.6" fill="none"/><path d="M190.88,250.88V261.52M188.18,250.88h5.4M188.18,261.52h5.4" stroke="#1ec31e" stroke-width="0.6" fill="none"/><path d="M198.82,264.53V277.47M196.12,264.53h5.4M196.12,277.47h5.4" stroke="#1ec31e" stroke-width="0.6" fill="none"/><path d="M206.76,259.76V273.04M204.06,259.76h5.4M204.06,273.04h5.4" stroke="#1ec31e" stroke-width="0.6" fill="none"/><path d="M214.70,253.45V263.55M212.00,253.45h5.4M212.00,263.55h5.4" stroke="#1ec31e" stroke-width="0.6" fill="none"/><path d="M222.64,278.14V289.06M219.94,278.14h5.4M219.94,289.06h5.4" stroke="#1ec31e" stroke-width="0.6" fill="none"/><path d="M230.58,278.73V290.47M227.88,278.73h5.4M227.88,290.47h5.4" stroke="#1ec31e" stroke-width="0.6" fill="none"/><path d="M238.52,276.88V288.32M235.82,276.88h5.4M235.82,288.32h5.4" stroke="#1ec31e" stroke-width="0.6" fill="none"/><path d="M246.46,280.90V291.70M243.76,280.90h5.4M243.76,291.70h5.4" stroke="#1ec31e" stroke-width="0.6" fill="none"/><path d="M254.40,288.02V295.18M251.70,288.02h5.4M251.70,295.18h5.4" stroke="#1ec31e" stroke-width="0.6" fill="none"/><path d="M262.34,303.03V310.17M259.64,303.03h5.4M259.64,310.17h5.4" stroke="#1ec31e" stroke-width="0.6" fill="none"/><path d="M286.16,278.16V287.84M283.46,278.16h5.4M283.46,287.84h5.4" stroke="#1ec31e" stroke-width="0.6" fill="none"/><path d="M294.10,148.49V169.51M291.40,148.49h5.4M291.40,169.51h5.4" stroke="#1ec31e" stroke-width="0.6" fill="none"/><path d="M302.04,260.31V272.69M299.34,260.31h5.4M299.34,272.69h5.4" stroke="#1ec31e" stroke-width="0.6" fill="none"/><path d="M309.98,246.56V257.44M307.28,246.56h5.4M307.28,257.44h5.4" stroke="#1ec31e" stroke-width="0.6" fill="none"/><path d="M317.92,105.71V134.29M315.22,105.71h5.4M315.22,134.29h5.4" stroke="#1ec31e" stroke-width="0.6" fill="none"/><path d="M325.86,210.36V225.64M323.16,210.36h5.4M323.16,225.64h5.4" stroke="#1ec31e" stroke-width="0.6" fill="none"/><path d="M333.80,255.40V266.60M331.10,255.40h5.4M331.10,266.60h5.4" stroke="#1ec31e" stroke-width="0.6" fill="none"/><path d="M341.74,197.20V214.80M339.04,197.20h5.4M339.04,214.80h5.4" stroke="#1ec31e" stroke-width="0.6" fill="none"/><path d="M349.68,234.36V244.24M346.98,234.36h5.4M346.98,244.24h5.4" stroke="#1ec31e" stroke-width="0.6" fill="none"/><path d="M357.62,217.77V233.23M354.92,217.77h5.4M354.92,233.23h5.4" stroke="#1ec31e" stroke-width="0.6" fill="none"/><path d="M365.56,251.10V265.70M362.86,251.10h5.4M362.86,265.70h5.4" stroke="#1ec31e" stroke-width="0.6" fill="none"/><path d="M373.50,148.03V167.57M370.80,148.03h5.4M370.80,167.57h5.4" stroke="#1ec31e" stroke-width="0.6" fill="none"/><path d="M381.44,252.64V264.96M378.74,252.64h5.4M378.74,264.96h5.4" stroke="#1ec31e" stroke-width="0.6" fill="none"/><path d="M389.38,263.65V276.15M386.68,263.65h5.4M386.68,276.15h5.4" stroke="#1ec31e" stroke-width="0.6" fill="none"/><path d="M397.32,168.42V187.18M394.62,168.42h5.4M394.62,187.18h5.4" stroke="#1ec31e" stroke-width="0.6" fill="none"/><path d="M405.26,194.64V206.96M402.56,194.64h5.4M402.56,206.96h5.4" stroke="#1ec31e" stroke-width="0.6" fill="none"/><path d="M413.20,274.25V284.75M410.50,274.25h5.4M410.50,284.75h5.4" stroke="#1ec31e" stroke-width="0.6" fill="none"/><path d="M421.14,278.65V287.35M418.44,278.65h5.4M418.44,287.35h5.4" stroke="#1ec31e" stroke-width="0.6" fill="none"/><path d="M429.08,283.18V290.82M426.38,283.18h5.4M426.38,290.82h5.4" stroke="#1ec31e" stroke-width="0.6" fill="none"/><path d="M437.02,206.60V228.60M434.32,206.60h5.4M434.32,228.60h5.4" stroke="#1ec31e" stroke-width="0.6" fill="none"/><path d="M444.96,190.10V207.90M442.26,190.10h5.4M442.26,207.90h5.4" stroke="#1ec31e" stroke-width="0.6" fill="none"/><path d="M452.90,281.17V290.83M450.20,281.17h5.4M450.20,290.83h5.4" stroke="#1ec31e" stroke-width="0.6" fill="none"/><path d="M460.84,268.06V277.54M458.14,268.06h5.4M458.14,277.54h5.4" stroke="#1ec31e" stroke-width="0.6" fill="none"/><path d="M468.78,270.76V281.84M466.08,270.76h5.4M466.08,281.84h5.4" stroke="#1ec31e" stroke-width="0.6" fill="none"/><path d="M476.72,298.31V308.69M474.02,298.31h5.4M474.02,308.69h5.4" stroke="#1ec31e" stroke-width="0.6" fill="none"/><path d="M484.66,300.10V307.50M481.96,300.10h5.4M481.96,307.50h5.4" stroke="#1ec31e" stroke-width="0.6" fill="none"/><polygon points="59.89,261.00 67.79,261.00 63.84,268.00" fill="#1ec31e"/><polygon points="67.83,142.60 75.73,142.60 71.78,149.60" fill="#1ec31e"/><polygon points="75.77,203.80 83.67,203.80 79.72,210.80" fill="#1ec31e"/><polygon points="83.71,257.10 91.61,257.10 87.66,264.10" fill="#1ec31e"/><polygon points="91.65,255.30 99.55,255.30 95.60,262.30" fill="#1ec31e"/><polygon points="99.59,276.30 107.49,276.30 103.54,283.30" fill="#1ec31e"/><polygon points="107.53,135.00 115.43,135.00 111.48,142.00" fill="#1ec31e"/><polygon points="115.47,253.30 123.37,253.30 119.42,260.30" fill="#1ec31e"/><polygon points="123.41,256.30 131.31,256.30 127.36,263.30" fill="#1ec31e"/><polygon points="131.35,267.50 139.25,267.50 135.30,274.50" fill="#1ec31e"/><polygon points="139.29,148.30 147.19,148.30 143.24,155.30" fill="#1ec31e"/><polygon points="147.23,238.00 155.13,238.00 151.18,245.00" fill="#1ec31e"/><polygon points="155.17,266.80 163.07,266.80 159.12,273.80" fill="#1ec31e"/><polygon points="163.11,277.80 171.01,277.80 167.06,284.80" fill="#1ec31e"/><polygon points="171.05,173.80 178.95,173.80 175.00,180.80" fill="#1ec31e"/><polygon points="178.99,242.20 186.89,242.20 182.94,249.20" fill="#1ec31e"/><polygon points="186.93,253.00 194.83,253.00 190.88,260.00" fill="#1ec31e"/><polygon points="194.87,267.80 202.77,267.80 198.82,274.80" fill="#1ec31e"/><polygon points="202.81,263.20 210.71,263.20 206.76,270.20" fill="#1ec31e"/><polygon points="210.75,255.30 218.65,255.30 214.70,262.30" fill="#1ec31e"/><polygon points="218.69,280.40 226.59,280.40 222.64,287.40" fill="#1ec31e"/><polygon points="226.63,281.40 234.53,281.40 230.58,288.40" fill="#1ec31e"/><polygon points="234.57,279.40 242.47,279.40 238.52,286.40" fill="#1ec31e"/><polygon points="242.51,283.10 250.41,283.10 246.46,290.10" fill="#1ec31e"/><polygon points="250.45,288.40 258.35,288.40 254.40,295.40" fill="#1ec31e"/><polygon points="258.39,303.40 266.29,303.40 262.34,310.40" fill="#1ec31e"/><polygon points="282.21,279.80 290.11,279.80 286.16,286.80" fill="#1ec31e"/><polygon points="290.15,155.80 298.05,155.80 294.10,162.80" fill="#1ec31e"/><polygon points="298.09,263.30 305.99,263.30 302.04,270.30" fill="#1ec31e"/><polygon points="306.03,248.80 313.93,248.80 309.98,255.80" fill="#1ec31e"/><polygon points="313.97,116.80 321.87,116.80 317.92,123.80" fill="#1ec31e"/><polygon points="321.91,214.80 329.81,214.80 325.86,221.80" fill="#1ec31e"/><polygon points="329.85,257.80 337.75,257.80 333.80,264.80" fill="#1ec31e"/><polygon points="337.79,202.80 345.69,202.80 341.74,209.80" fill="#1ec31e"/><polygon points="345.73,236.10 353.63,236.10 349.68,243.10" fill="#1ec31e"/><polygon points="353.67,222.30 361.57,222.30 357.62,229.30" fill="#1ec31e"/><polygon points="361.61,255.20 369.51,255.20 365.56,262.20" fill="#1ec31e"/><polygon points="369.55,154.60 377.45,154.60 373.50,161.60" fill="#1ec31e"/><polygon points="377.49,255.60 385.39,255.60 381.44,262.60" fill="#1ec31e"/><polygon points="385.43,266.70 393.33,266.70 389.38,273.70" fill="#1ec31e"/><polygon points="393.37,174.60 401.27,174.60 397.32,181.60" fill="#1ec31e"/><polygon points="401.31,197.60 409.21,197.60 405.26,204.60" fill="#1ec31e"/><polygon points="409.25,276.30 417.15,276.30 413.20,283.30" fill="#1ec31e"/><polygon points="417.19,279.80 425.09,279.80 421.14,286.80" fill="#1ec31e"/><polygon points="425.13,283.80 433.03,283.80 429.08,290.80" fill="#1ec31e"/><polygon points="433.07,214.40 440.97,214.40 437.02,221.40" fill="#1ec31e"/><polygon points="441.01,195.80 448.91,195.80 444.96,202.80" fill="#1ec31e"/><polygon points="448.95,282.80 456.85,282.80 452.90,289.80" fill="#1ec31e"/><polygon points="456.89,269.60 464.79,269.60 460.84,276.60" fill="#1ec31e"/><polygon points="464.83,273.10 472.73,273.10 468.78,280.10" fill="#1ec31e"/><polygon points="472.77,300.30 480.67,300.30 476.72,307.30" fill="#1ec31e"/><polygon points="480.71,300.60 488.61,300.60 484.66,307.60" fill="#1ec31e"/></g>
<g><path d="M63.84,274.06V282.94M61.14,274.06h5.4M61.14,282.94h5.4" stroke="#f4d12b" stroke-width="0.6" fill="none"/><path d="M71.78,139.84V160.16M69.08,139.84h5.4M69.08,160.16h5.4" stroke="#f4d12b" stroke-width="0.6" fill="none"/><path d="M79.72,183.20V196.80M77.02,183.20h5.4M77.02,196.80h5.4" stroke="#f4d12b" stroke-width="0.6" fill="none"/><path d="M87.66,247.23V259.37M84.96,247.23h5.4M84.96,259.37h5.4" stroke="#f4d12b" stroke-width="0.6" fill="none"/><path d="M95.60,149.50V160.50M92.90,149.50h5.4M92.90,160.50h5.4" stroke="#f4d12b" stroke-width="0.6" fill="none"/><path d="M103.54,253.03V261.97M100.84,253.03h5.4M100.84,261.97h5.4" stroke="#f4d12b" stroke-width="0.6" fill="none"/><path d="M111.48,135.69V158.31M108.78,135.69h5.4M108.78,158.31h5.4" stroke="#f4d12b" stroke-width="0.6" fill="none"/><path d="M119.42,235.06V246.94M116.72,235.06h5.4M116.72,246.94h5.4" stroke="#f4d12b" stroke-width="0.6" fill="none"/><path d="M127.36,260.45V274.35M124.66,260.45h5.4M124.66,274.35h5.4" stroke="#f4d12b" stroke-width="0.6" fill="none"/><path d="M135.30,272.36V280.64M132.60,272.36h5.4M132.60,280.64h5.4" stroke="#f4d12b" stroke-width="0.6" fill="none"/><path d="M143.24,166.80V180.80M140.54,166.80h5.4M140.54,180.80h5.4" stroke="#f4d12b" stroke-width="0.6" fill="none"/><path d="M151.18,257.62V266.98M148.48,257.62h5.4M148.48,266.98h5.4" stroke="#f4d12b" stroke-width="0.6" fill="none"/><path d="M159.12,260.63V272.77M156.42,260.63h5.4M156.42,272.77h5.4" stroke="#f4d12b" stroke-width="0.6" fill="none"/><path d="M167.06,283.13V292.87M164.36,283.13h5.4M164.36,292.87h5.4" stroke="#f4d12b" stroke-width="0.6" fill="none"/><path d="M175.00,141.82V158.78M172.30,141.82h5.4M172.30,158.78h5.4" stroke="#f4d12b" stroke-width="0.6" fill="none"/><path d="M182.94,232.35V246.85M180.24,232.35h5.4M180.24,246.85h5.4" stroke="#f4d12b" stroke-width="0.6" fill="none"/><path d="M190.88,242.10V251.10M188.18,242.10h5.4M188.18,251.10h5.4" stroke="#f4d12b" stroke-width="0.6" fill="none"/><path d="M198.82,247.04V260.16M196.12,247.04h5.4M196.12,260.16h5.4" stroke="#f4d12b" stroke-width="0.6" fill="none"/><path d="M206.76,271.93V282.07M204.06,271.93h5.4M204.06,282.07h5.4" stroke="#f4d12b" stroke-width="0.6" fill="none"/><path d="M214.70,268.47V280.53M212.00,268.47h5.4M212.00,280.53h5.4" stroke="#f4d12b" stroke-width="0.6" fill="none"/><path d="M222.64,282.77V292.23M219.94,282.77h5.4M219.94,292.23h5.4" stroke="#f4d12b" stroke-width="0.6" fill="none"/><path d="M230.58,281.25V290.75M227.88,281.25h5.4M227.88,290.75h5.4" stroke="#f4d12b" stroke-width="0.6" fill="none"/><path d="M238.52,280.00V289.20M235.82,280.00h5.4M235.82,289.20h5.4" stroke="#f4d12b" stroke-width="0.6" fill="none"/><path d="M246.46,293.97V304.03M243.76,293.97h5.4M243.76,304.03h5.4" stroke="#f4d12b" stroke-width="0.6" fill="none"/><path d="M254.40,292.77V300.03M251.70,292.77h5.4M251.70,300.03h5.4" stroke="#f4d12b" stroke-width="0.6" fill="none"/><path d="M262.34,307.11V314.09M259.64,307.11h5.4M259.64,314.09h5.4" stroke="#f4d12b" stroke-width="0.6" fill="none"/><path d="M286.16,285.31V292.69M283.46,285.31h5.4M283.46,292.69h5.4" stroke="#f4d12b" stroke-width="0.6" fill="none"/><path d="M294.10,187.22V198.78M291.40,187.22h5.4M291.40,198.78h5.4" stroke="#f4d12b" stroke-width="0.6" fill="none"/><path d="M302.04,254.15V264.45M299.34,254.15h5.4M299.34,264.45h5.4" stroke="#f4d12b" stroke-width="0.6" fill="none"/><path d="M309.98,250.29V263.11M307.28,250.29h5.4M307.28,263.11h5.4" stroke="#f4d12b" stroke-width="0.6" fill="none"/><path d="M317.92,149.13V168.07M315.22,149.13h5.4M315.22,168.07h5.4" stroke="#f4d12b" stroke-width="0.6" fill="none"/><path d="M325.86,184.91V199.09M323.16,184.91h5.4M323.16,199.09h5.4" stroke="#f4d12b" stroke-width="0.6" fill="none"/><path d="M333.80,249.29V258.71M331.10,249.29h5.4M331.10,258.71h5.4" stroke="#f4d12b" stroke-width="0.6" fill="none"/><path d="M341.74,249.24V262.76M339.04,249.24h5.4M339.04,262.76h5.4" stroke="#f4d12b" stroke-width="0.6" fill="none"/><path d="M349.68,181.98V196.02M346.98,181.98h5.4M346.98,196.02h5.4" stroke="#f4d12b" stroke-width="0.6" fill="none"/><path d="M357.62,266.60V278.00M354.92,266.60h5.4M354.92,278.00h5.4" stroke="#f4d12b" stroke-width="0.6" fill="none"/><path d="M365.56,229.60V245.20M362.86,229.60h5.4M362.86,245.20h5.4" stroke="#f4d12b" stroke-width="0.6" fill="none"/><path d="M373.50,179.27V197.73M370.80,179.27h5.4M370.80,197.73h5.4" stroke="#f4d12b" stroke-width="0.6" fill="none"/><path d="M381.44,260.89V271.71M378.74,260.89h5.4M378.74,271.71h5.4" stroke="#f4d12b" stroke-width="0.6" fill="none"/><path d="M389.38,269.87V282.53M386.68,269.87h5.4M386.68,282.53h5.4" stroke="#f4d12b" stroke-width="0.6" fill="none"/><path d="M397.32,196.12V211.88M394.62,196.12h5.4M394.62,211.88h5.4" stroke="#f4d12b" stroke-width="0.6" fill="none"/><path d="M405.26,175.80V196.20M402.56,175.80h5.4M402.56,196.20h5.4" stroke="#f4d12b" stroke-width="0.6" fill="none"/><path d="M413.20,277.37V286.63M410.50,277.37h5.4M410.50,286.63h5.4" stroke="#f4d12b" stroke-width="0.6" fill="none"/><path d="M421.14,282.37V289.63M418.44,282.37h5.4M418.44,289.63h5.4" stroke="#f4d12b" stroke-width="0.6" fill="none"/><path d="M429.08,286.54V295.46M426.38,286.54h5.4M426.38,295.46h5.4" stroke="#f4d12b" stroke-width="0.6" fill="none"/><path d="M437.02,268.42V277.18M434.32,268.42h5.4M434.32,277.18h5.4" stroke="#f4d12b" stroke-width="0.6" fill="none"/><path d="M444.96,266.93V277.07M442.26,266.93h5.4M442.26,277.07h5.4" stroke="#f4d12b" stroke-width="0.6" fill="none"/><path d="M452.90,286.13V296.87M450.20,286.13h5.4M450.20,296.87h5.4" stroke="#f4d12b" stroke-width="0.6" fill="none"/><path d="M460.84,287.02V294.98M458.14,287.02h5.4M458.14,294.98h5.4" stroke="#f4d12b" stroke-width="0.6" fill="none"/><path d="M468.78,288.74V297.26M466.08,288.74h5.4M466.08,297.26h5.4" stroke="#f4d12b" stroke-width="0.6" fill="none"/><path d="M476.72,298.68V306.32M474.02,298.68h5.4M474.02,306.32h5.4" stroke="#f4d12b" stroke-width="0.6" fill="none"/><path d="M484.66,302.24V311.36M481.96,302.24h5.4M481.96,311.36h5.4" stroke="#f4d12b" stroke-width="0.6" fill="none"/><polygon points="59.89,281.70 67.79,281.70 63.84,274.70" fill="#f4d12b"/><polygon points="67.83,153.20 75.73,153.20 71.78,146.20" fill="#f4d12b"/><polygon points="75.77,193.20 83.67,193.20 79.72,186.20" fill="#f4d12b"/><polygon points="83.71,256.50 91.61,256.50 87.66,249.50" fill="#f4d12b"/><polygon points="91.65,158.20 99.55,158.20 95.60,151.20" fill="#f4d12b"/><polygon points="99.59,260.70 107.49,260.70 103.54,253.70" fill="#f4d12b"/><polygon points="107.53,150.20 115.43,150.20 111.48,143.20" fill="#f4d12b"/><polygon points="115.47,244.20 123.37,244.20 119.42,237.20" fill="#f4d12b"/><polygon points="123.41,270.60 131.31,270.60 127.36,263.60" fill="#f4d12b"/><polygon points="131.35,279.70 139.25,279.70 135.30,272.70" fill="#f4d12b"/><polygon points="139.29,177.00 147.19,177.00 143.24,170.00" fill="#f4d12b"/><polygon points="147.23,265.50 155.13,265.50 151.18,258.50" fill="#f4d12b"/><polygon points="155.17,269.90 163.07,269.90 159.12,262.90" fill="#f4d12b"/><polygon points="163.11,291.20 171.01,291.20 167.06,284.20" fill="#f4d12b"/><polygon points="171.05,153.50 178.95,153.50 175.00,146.50" fill="#f4d12b"/><polygon points="178.99,242.80 186.89,242.80 182.94,235.80" fill="#f4d12b"/><polygon points="186.93,249.80 194.83,249.80 190.88,242.80" fill="#f4d12b"/><polygon points="194.87,256.80 202.77,256.80 198.82,249.80" fill="#f4d12b"/><polygon points="202.81,280.20 210.71,280.20 206.76,273.20" fill="#f4d12b"/><polygon points="210.75,277.70 218.65,277.70 214.70,270.70" fill="#f4d12b"/><polygon points="218.69,290.70 226.59,290.70 222.64,283.70" fill="#f4d12b"/><polygon points="226.63,289.20 234.53,289.20 230.58,282.20" fill="#f4d12b"/><polygon points="234.57,287.80 242.47,287.80 238.52,280.80" fill="#f4d12b"/><polygon points="242.51,302.20 250.41,302.20 246.46,295.20" fill="#f4d12b"/><polygon points="250.45,299.60 258.35,299.60 254.40,292.60" fill="#f4d12b"/><polygon points="258.39,313.80 266.29,313.80 262.34,306.80" fill="#f4d12b"/><polygon points="282.21,292.20 290.11,292.20 286.16,285.20" fill="#f4d12b"/><polygon points="290.15,196.20 298.05,196.20 294.10,189.20" fill="#f4d12b"/><polygon points="298.09,262.50 305.99,262.50 302.04,255.50" fill="#f4d12b"/><polygon points="306.03,259.90 313.93,259.90 309.98,252.90" fill="#f4d12b"/><polygon points="313.97,161.80 321.87,161.80 317.92,154.80" fill="#f4d12b"/><polygon points="321.91,195.20 329.81,195.20 325.86,188.20" fill="#f4d12b"/><polygon points="329.85,257.20 337.75,257.20 333.80,250.20" fill="#f4d12b"/><polygon points="337.79,259.20 345.69,259.20 341.74,252.20" fill="#f4d12b"/><polygon points="345.73,192.20 353.63,192.20 349.68,185.20" fill="#f4d12b"/><polygon points="353.67,275.50 361.57,275.50 357.62,268.50" fill="#f4d12b"/><polygon points="361.61,240.60 369.51,240.60 365.56,233.60" fill="#f4d12b"/><polygon points="369.55,191.70 377.45,191.70 373.50,184.70" fill="#f4d12b"/><polygon points="377.49,269.50 385.39,269.50 381.44,262.50" fill="#f4d12b"/><polygon points="385.43,279.40 393.33,279.40 389.38,272.40" fill="#f4d12b"/><polygon points="393.37,207.20 401.27,207.20 397.32,200.20" fill="#f4d12b"/><polygon points="401.31,189.20 409.21,189.20 405.26,182.20" fill="#f4d12b"/><polygon points="409.25,285.20 417.15,285.20 413.20,278.20" fill="#f4d12b"/><polygon points="417.19,289.20 425.09,289.20 421.14,282.20" fill="#f4d12b"/><polygon points="425.13,294.20 433.03,294.20 429.08,287.20" fill="#f4d12b"/><polygon points="433.07,276.00 440.97,276.00 437.02,269.00" fill="#f4d12b"/><polygon points="441.01,275.20 448.91,275.20 444.96,268.20" fill="#f4d12b"/><polygon points="448.95,294.70 456.85,294.70 452.90,287.70" fill="#f4d12b"/><polygon points="456.89,294.20 464.79,294.20 460.84,287.20" fill="#f4d12b"/><polygon points="464.83,296.20 472.73,296.20 468.78,289.20" fill="#f4d12b"/><polygon points="472.77,305.70 480.67,305.70 476.72,298.70" fill="#f4d12b"/><polygon points="480.71,310.00 488.61,310.00 484.66,303.00" fill="#f4d12b"/></g>
<g><path d="M63.84,269.58V280.42M61.14,269.58h5.4M61.14,280.42h5.4" stroke="#2f6cb3" stroke-width="0.6" fill="none"/><path d="M71.78,124.20V152.40M69.08,124.20h5.4M69.08,152.40h5.4" stroke="#2f6cb3" stroke-width="0.6" fill="none"/><path d="M79.72,163.55V182.45M77.02,163.55h5.4M77.02,182.45h5.4" stroke="#2f6cb3" stroke-width="0.6" fill="none"/><path d="M87.66,254.34V266.26M84.96,254.34h5.4M84.96,266.26h5.4" stroke="#2f6cb3" stroke-width="0.6" fill="none"/><path d="M95.60,187.51V199.69M92.90,187.51h5.4M92.90,199.69h5.4" stroke="#2f6cb3" stroke-width="0.6" fill="none"/><path d="M103.54,244.38V260.02M100.84,244.38h5.4M100.84,260.02h5.4" stroke="#2f6cb3" stroke-width="0.6" fill="none"/><path d="M111.48,136.03V152.97M108.78,136.03h5.4M108.78,152.97h5.4" stroke="#2f6cb3" stroke-width="0.6" fill="none"/><path d="M119.42,237.29V253.71M116.72,237.29h5.4M116.72,253.71h5.4" stroke="#2f6cb3" stroke-width="0.6" fill="none"/><path d="M127.36,279.95V289.45M124.66,279.95h5.4M124.66,289.45h5.4" stroke="#2f6cb3" stroke-width="0.6" fill="none"/><path d="M135.30,287.56V294.44M132.60,287.56h5.4M132.60,294.44h5.4" stroke="#2f6cb3" stroke-width="0.6" fill="none"/><path d="M143.24,152.62V178.38M140.54,152.62h5.4M140.54,178.38h5.4" stroke="#2f6cb3" stroke-width="0.6" fill="none"/><path d="M151.18,255.78V268.82M148.48,255.78h5.4M148.48,268.82h5.4" stroke="#2f6cb3" stroke-width="0.6" fill="none"/><path d="M159.12,271.66V282.94M156.42,271.66h5.4M156.42,282.94h5.4" stroke="#2f6cb3" stroke-width="0.6" fill="none"/><path d="M167.06,288.46V297.54M164.36,288.46h5.4M164.36,297.54h5.4" stroke="#2f6cb3" stroke-width="0.6" fill="none"/><path d="M175.00,201.48V214.52M172.30,201.48h5.4M172.30,214.52h5.4" stroke="#2f6cb3" stroke-width="0.6" fill="none"/><path d="M182.94,258.55V269.05M180.24,258.55h5.4M180.24,269.05h5.4" stroke="#2f6cb3" stroke-width="0.6" fill="none"/><path d="M190.88,257.42V267.58M188.18,257.42h5.4M188.18,267.58h5.4" stroke="#2f6cb3" stroke-width="0.6" fill="none"/><path d="M198.82,234.23V246.37M196.12,234.23h5.4M196.12,246.37h5.4" stroke="#2f6cb3" stroke-width="0.6" fill="none"/><path d="M206.76,286.39V295.21M204.06,286.39h5.4M204.06,295.21h5.4" stroke="#2f6cb3" stroke-width="0.6" fill="none"/><path d="M214.70,285.42V296.18M212.00,285.42h5.4M212.00,296.18h5.4" stroke="#2f6cb3" stroke-width="0.6" fill="none"/><path d="M222.64,288.41V298.59M219.94,288.41h5.4M219.94,298.59h5.4" stroke="#2f6cb3" stroke-width="0.6" fill="none"/><path d="M230.58,284.63V294.17M227.88,284.63h5.4M227.88,294.17h5.4" stroke="#2f6cb3" stroke-width="0.6" fill="none"/><path d="M238.52,302.86V309.54M235.82,302.86h5.4M235.82,309.54h5.4" stroke="#2f6cb3" stroke-width="0.6" fill="none"/><path d="M246.46,303.29V310.31M243.76,303.29h5.4M243.76,310.31h5.4" stroke="#2f6cb3" stroke-width="0.6" fill="none"/><path d="M254.40,299.40V307.80M251.70,299.40h5.4M251.70,307.80h5.4" stroke="#2f6cb3" stroke-width="0.6" fill="none"/><path d="M262.34,303.04V310.56M259.64,303.04h5.4M259.64,310.56h5.4" stroke="#2f6cb3" stroke-width="0.6" fill="none"/><path d="M286.16,289.11V298.89M283.46,289.11h5.4M283.46,298.89h5.4" stroke="#2f6cb3" stroke-width="0.6" fill="none"/><path d="M294.10,165.68V182.32M291.40,165.68h5.4M291.40,182.32h5.4" stroke="#2f6cb3" stroke-width="0.6" fill="none"/><path d="M302.04,205.60V222.40M299.34,205.60h5.4M299.34,222.40h5.4" stroke="#2f6cb3" stroke-width="0.6" fill="none"/><path d="M309.98,266.80V276.20M307.28,266.80h5.4M307.28,276.20h5.4" stroke="#2f6cb3" stroke-width="0.6" fill="none"/><path d="M317.92,138.70V155.30M315.22,138.70h5.4M315.22,155.30h5.4" stroke="#2f6cb3" stroke-width="0.6" fill="none"/><path d="M325.86,200.33V218.67M323.16,200.33h5.4M323.16,218.67h5.4" stroke="#2f6cb3" stroke-width="0.6" fill="none"/><path d="M333.80,232.71V247.29M331.10,232.71h5.4M331.10,247.29h5.4" stroke="#2f6cb3" stroke-width="0.6" fill="none"/><path d="M341.74,248.92V263.08M339.04,248.92h5.4M339.04,263.08h5.4" stroke="#2f6cb3" stroke-width="0.6" fill="none"/><path d="M349.68,244.41V257.59M346.98,244.41h5.4M346.98,257.59h5.4" stroke="#2f6cb3" stroke-width="0.6" fill="none"/><path d="M357.62,233.60V247.60M354.92,233.60h5.4M354.92,247.60h5.4" stroke="#2f6cb3" stroke-width="0.6" fill="none"/><path d="M365.56,230.72V244.08M362.86,230.72h5.4M362.86,244.08h5.4" stroke="#2f6cb3" stroke-width="0.6" fill="none"/><path d="M373.50,165.69V185.31M370.80,165.69h5.4M370.80,185.31h5.4" stroke="#2f6cb3" stroke-width="0.6" fill="none"/><path d="M381.44,279.23V290.77M378.74,279.23h5.4M378.74,290.77h5.4" stroke="#2f6cb3" stroke-width="0.6" fill="none"/><path d="M389.38,286.13V295.87M386.68,286.13h5.4M386.68,295.87h5.4" stroke="#2f6cb3" stroke-width="0.6" fill="none"/><path d="M397.32,251.73V265.27M394.62,251.73h5.4M394.62,265.27h5.4" stroke="#2f6cb3" stroke-width="0.6" fill="none"/><path d="M405.26,225.65V240.95M402.56,225.65h5.4M402.56,240.95h5.4" stroke="#2f6cb3" stroke-width="0.6" fill="none"/><path d="M413.20,270.53V279.47M410.50,270.53h5.4M410.50,279.47h5.4" stroke="#2f6cb3" stroke-width="0.6" fill="none"/><path d="M421.14,299.57V306.43M418.44,299.57h5.4M418.44,306.43h5.4" stroke="#2f6cb3" stroke-width="0.6" fill="none"/><path d="M429.08,297.49V305.71M426.38,297.49h5.4M426.38,305.71h5.4" stroke="#2f6cb3" stroke-width="0.6" fill="none"/><path d="M437.02,255.42V269.58M434.32,255.42h5.4M434.32,269.58h5.4" stroke="#2f6cb3" stroke-width="0.6" fill="none"/><path d="M444.96,197.81V211.39M442.26,197.81h5.4M442.26,211.39h5.4" stroke="#2f6cb3" stroke-width="0.6" fill="none"/><path d="M452.90,300.28V307.72M450.20,300.28h5.4M450.20,307.72h5.4" stroke="#2f6cb3" stroke-width="0.6" fill="none"/><path d="M460.84,301.29V311.31M458.14,301.29h5.4M458.14,311.31h5.4" stroke="#2f6cb3" stroke-width="0.6" fill="none"/><path d="M468.78,301.26V310.34M466.08,301.26h5.4M466.08,310.34h5.4" stroke="#2f6cb3" stroke-width="0.6" fill="none"/><path d="M476.72,306.18V313.82M474.02,306.18h5.4M474.02,313.82h5.4" stroke="#2f6cb3" stroke-width="0.6" fill="none"/><path d="M484.66,307.78V316.82M481.96,307.78h5.4M481.96,316.82h5.4" stroke="#2f6cb3" stroke-width="0.6" fill="none"/><circle cx="63.84" cy="275.00" r="3.45" fill="#2f6cb3"/><circle cx="71.78" cy="138.30" r="3.45" fill="#2f6cb3"/><circle cx="79.72" cy="173.00" r="3.45" fill="#2f6cb3"/><circle cx="87.66" cy="260.30" r="3.45" fill="#2f6cb3"/><circle cx="95.60" cy="193.60" r="3.45" fill="#2f6cb3"/><circle cx="103.54" cy="252.20" r="3.45" fill="#2f6cb3"/><circle cx="111.48" cy="144.50" r="3.45" fill="#2f6cb3"/><circle cx="119.42" cy="245.50" r="3.45" fill="#2f6cb3"/><circle cx="127.36" cy="284.70" r="3.45" fill="#2f6cb3"/><circle cx="135.30" cy="291.00" r="3.45" fill="#2f6cb3"/><circle cx="143.24" cy="165.50" r="3.45" fill="#2f6cb3"/><circle cx="151.18" cy="262.30" r="3.45" fill="#2f6cb3"/><circle cx="159.12" cy="277.30" r="3.45" fill="#2f6cb3"/><circle cx="167.06" cy="293.00" r="3.45" fill="#2f6cb3"/><circle cx="175.00" cy="208.00" r="3.45" fill="#2f6cb3"/><circle cx="182.94" cy="263.80" r="3.45" fill="#2f6cb3"/><circle cx="190.88" cy="262.50" r="3.45" fill="#2f6cb3"/><circle cx="198.82" cy="240.30" r="3.45" fill="#2f6cb3"/><circle cx="206.76" cy="290.80" r="3.45" fill="#2f6cb3"/><circle cx="214.70" cy="290.80" r="3.45" fill="#2f6cb3"/><circle cx="222.64" cy="293.50" r="3.45" fill="#2f6cb3"/><circle cx="230.58" cy="289.40" r="3.45" fill="#2f6cb3"/><circle cx="238.52" cy="306.20" r="3.45" fill="#2f6cb3"/><circle cx="246.46" cy="306.80" r="3.45" fill="#2f6cb3"/><circle cx="254.40" cy="303.60" r="3.45" fill="#2f6cb3"/><circle cx="262.34" cy="306.80" r="3.45" fill="#2f6cb3"/><circle cx="286.16" cy="294.00" r="3.45" fill="#2f6cb3"/><circle cx="294.10" cy="174.00" r="3.45" fill="#2f6cb3"/><circle cx="302.04" cy="214.00" r="3.45" fill="#2f6cb3"/><circle cx="309.98" cy="271.50" r="3.45" fill="#2f6cb3"/><circle cx="317.92" cy="147.00" r="3.45" fill="#2f6cb3"/><circle cx="325.86" cy="209.50" r="3.45" fill="#2f6cb3"/><circle cx="333.80" cy="240.00" r="3.45" fill="#2f6cb3"/><circle cx="341.74" cy="256.00" r="3.45" fill="#2f6cb3"/><circle cx="349.68" cy="251.00" r="3.45" fill="#2f6cb3"/><circle cx="357.62" cy="240.60" r="3.45" fill="#2f6cb3"/><circle cx="365.56" cy="237.40" r="3.45" fill="#2f6cb3"/><circle cx="373.50" cy="175.50" r="3.45" fill="#2f6cb3"/><circle cx="381.44" cy="285.00" r="3.45" fill="#2f6cb3"/><circle cx="389.38" cy="291.00" r="3.45" fill="#2f6cb3"/><circle cx="397.32" cy="258.50" r="3.45" fill="#2f6cb3"/><circle cx="405.26" cy="233.30" r="3.45" fill="#2f6cb3"/><circle cx="413.20" cy="275.00" r="3.45" fill="#2f6cb3"/><circle cx="421.14" cy="303.00" r="3.45" fill="#2f6cb3"/><circle cx="429.08" cy="301.60" r="3.45" fill="#2f6cb3"/><circle cx="437.02" cy="262.50" r="3.45" fill="#2f6cb3"/><circle cx="444.96" cy="204.60" r="3.45" fill="#2f6cb3"/><circle cx="452.90" cy="304.00" r="3.45" fill="#2f6cb3"/><circle cx="460.84" cy="306.30" r="3.45" fill="#2f6cb3"/><circle cx="468.78" cy="305.80" r="3.45" fill="#2f6cb3"/><circle cx="476.72" cy="310.00" r="3.45" fill="#2f6cb3"/><circle cx="484.66" cy="312.30" r="3.45" fill="#2f6cb3"/></g>
<path d="M56.4,13.3V323.6H501" stroke="#222" stroke-width="1.1" fill="none"/>
<path d="M56.4,271.88h4.6" stroke="#222" stroke-width="1.1"/>
<path d="M56.4,220.16h4.6" stroke="#222" stroke-width="1.1"/>
<path d="M56.4,168.44h4.6" stroke="#222" stroke-width="1.1"/>
<path d="M56.4,116.72h4.6" stroke="#222" stroke-width="1.1"/>
<path d="M56.4,65.00h4.6" stroke="#222" stroke-width="1.1"/>
<path d="M56.4,13.28h4.6" stroke="#222" stroke-width="1.1"/>
<path d="M79.72,323.6v-3.2" stroke="#222" stroke-width="1.1"/>
<path d="M103.54,323.6v-3.2" stroke="#222" stroke-width="1.1"/>
<path d="M127.36,323.6v-3.2" stroke="#222" stroke-width="1.1"/>
<path d="M151.18,323.6v-3.2" stroke="#222" stroke-width="1.1"/>
<path d="M175.00,323.6v-3.2" stroke="#222" stroke-width="1.1"/>
<path d="M198.82,323.6v-3.2" stroke="#222" stroke-width="1.1"/>
<path d="M222.64,323.6v-3.2" stroke="#222" stroke-width="1.1"/>
<path d="M246.46,323.6v-3.2" stroke="#222" stroke-width="1.1"/>
<path d="M270.28,323.6v-3.2" stroke="#222" stroke-width="1.1"/>
<path d="M294.10,323.6v-3.2" stroke="#222" stroke-width="1.1"/>
<path d="M317.92,323.6v-3.2" stroke="#222" stroke-width="1.1"/>
<path d="M341.74,323.6v-3.2" stroke="#222" stroke-width="1.1"/>
<path d="M365.56,323.6v-3.2" stroke="#222" stroke-width="1.1"/>
<path d="M389.38,323.6v-3.2" stroke="#222" stroke-width="1.1"/>
<path d="M413.20,323.6v-3.2" stroke="#222" stroke-width="1.1"/>
<path d="M437.02,323.6v-3.2" stroke="#222" stroke-width="1.1"/>
<path d="M460.84,323.6v-3.2" stroke="#222" stroke-width="1.1"/>
<path d="M484.66,323.6v-3.2" stroke="#222" stroke-width="1.1"/>
<path d="M277.2,11V323" stroke="#444" stroke-width="1.3" stroke-dasharray="2.7,1.8"/>
<text transform="translate(50.6,328.10) scale(0.93,1)" text-anchor="end" style="font-family:'Liberation Serif',serif;font-weight:bold;fill:#111;font-size:13.2px">0</text>
<text transform="translate(50.6,276.38) scale(0.93,1)" text-anchor="end" style="font-family:'Liberation Serif',serif;font-weight:bold;fill:#111;font-size:13.2px">25</text>
<text transform="translate(50.6,224.66) scale(0.93,1)" text-anchor="end" style="font-family:'Liberation Serif',serif;font-weight:bold;fill:#111;font-size:13.2px">50</text>
<text transform="translate(50.6,172.94) scale(0.93,1)" text-anchor="end" style="font-family:'Liberation Serif',serif;font-weight:bold;fill:#111;font-size:13.2px">75</text>
<text transform="translate(50.6,121.22) scale(0.93,1)" text-anchor="end" style="font-family:'Liberation Serif',serif;font-weight:bold;fill:#111;font-size:13.2px">100</text>
<text transform="translate(50.6,69.50) scale(0.93,1)" text-anchor="end" style="font-family:'Liberation Serif',serif;font-weight:bold;fill:#111;font-size:13.2px">125</text>
<text transform="translate(50.6,17.78) scale(0.93,1)" text-anchor="end" style="font-family:'Liberation Serif',serif;font-weight:bold;fill:#111;font-size:13.2px">150</text>
<text transform="translate(88.52,332.3) rotate(-45)" text-anchor="end" style="font-family:'Liberation Serif',serif;font-weight:bold;fill:#111;font-size:12.9px">2022/5/15</text>
<text transform="translate(112.34,332.3) rotate(-45)" text-anchor="end" style="font-family:'Liberation Serif',serif;font-weight:bold;fill:#111;font-size:12.9px">2022/5/25</text>
<text transform="translate(136.16,332.3) rotate(-45)" text-anchor="end" style="font-family:'Liberation Serif',serif;font-weight:bold;fill:#111;font-size:12.9px">2022/6/8</text>
<text transform="translate(159.98,332.3) rotate(-45)" text-anchor="end" style="font-family:'Liberation Serif',serif;font-weight:bold;fill:#111;font-size:12.9px">2022/6/12</text>
<text transform="translate(183.80,332.3) rotate(-45)" text-anchor="end" style="font-family:'Liberation Serif',serif;font-weight:bold;fill:#111;font-size:12.9px">2022/6/20</text>
<text transform="translate(207.62,332.3) rotate(-45)" text-anchor="end" style="font-family:'Liberation Serif',serif;font-weight:bold;fill:#111;font-size:12.9px">2022/6/28</text>
<text transform="translate(231.44,332.3) rotate(-45)" text-anchor="end" style="font-family:'Liberation Serif',serif;font-weight:bold;fill:#111;font-size:12.9px">2022/7/8</text>
<text transform="translate(255.26,332.3) rotate(-45)" text-anchor="end" style="font-family:'Liberation Serif',serif;font-weight:bold;fill:#111;font-size:12.9px">2022/7/22</text>
<text transform="translate(302.90,332.3) rotate(-45)" text-anchor="end" style="font-family:'Liberation Serif',serif;font-weight:bold;fill:#111;font-size:12.9px">2022/8/5</text>
<text transform="translate(326.72,332.3) rotate(-45)" text-anchor="end" style="font-family:'Liberation Serif',serif;font-weight:bold;fill:#111;font-size:12.9px">2022/8/15</text>
<text transform="translate(350.54,332.3) rotate(-45)" text-anchor="end" style="font-family:'Liberation Serif',serif;font-weight:bold;fill:#111;font-size:12.9px">2022/8/24</text>
<text transform="translate(374.36,332.3) rotate(-45)" text-anchor="end" style="font-family:'Liberation Serif',serif;font-weight:bold;fill:#111;font-size:12.9px">2022/9/6</text>
<text transform="translate(398.18,332.3) rotate(-45)" text-anchor="end" style="font-family:'Liberation Serif',serif;font-weight:bold;fill:#111;font-size:12.9px">2022/9/11</text>
<text transform="translate(422.00,332.3) rotate(-45)" text-anchor="end" style="font-family:'Liberation Serif',serif;font-weight:bold;fill:#111;font-size:12.9px">2022/9/19</text>
<text transform="translate(445.82,332.3) rotate(-45)" text-anchor="end" style="font-family:'Liberation Serif',serif;font-weight:bold;fill:#111;font-size:12.9px">2022/9/27</text>
<text transform="translate(469.64,332.3) rotate(-45)" text-anchor="end" style="font-family:'Liberation Serif',serif;font-weight:bold;fill:#111;font-size:12.9px">2022/10/7</text>
<text transform="translate(493.46,332.3) rotate(-45)" text-anchor="end" style="font-family:'Liberation Serif',serif;font-weight:bold;fill:#111;font-size:12.9px">2022/10/8</text>
<text x="129" y="30.6" style="font-family:'Liberation Serif',serif;font-weight:bold;fill:#111;font-size:15.5px">Early rice</text>
<text x="363" y="35.6" style="font-family:'Liberation Serif',serif;font-weight:bold;fill:#111;font-size:15.5px">Late rice</text>
<text transform="translate(509,358) rotate(-90)" style="font-family:'Liberation Serif',serif;font-weight:bold;fill:#111;font-size:14.5px">Date</text>
<text transform="translate(22.6,231.5) rotate(-90) scale(1,1.06)" style="font-family:'Liberation Serif',serif;font-weight:bold;fill:#111;font-size:16.45px">N<tspan dy="3.5" font-size="10px">2</tspan><tspan dy="-3.5">O flux (μg m</tspan><tspan dy="-6.3" font-size="9.5px">-2</tspan><tspan dy="6.3"> h</tspan><tspan dy="-6.3" font-size="9.5px">-1</tspan><tspan dy="6.3">)</tspan></text>
<path d="M481.2,19.80H500" stroke="#777" stroke-width="0.9"/>
<polygon points="486.39,23.13 494.61,23.13 490.50,15.85" fill="#d8282f"/>
<text x="506.5" y="24.40" style="font-family:'Liberation Serif',serif;font-weight:bold;fill:#111;font-size:13px">CF</text>
<path d="M481.2,36.90H500" stroke="#777" stroke-width="0.9"/>
<polygon points="486.39,33.57 494.61,33.57 490.50,40.85" fill="#414141"/>
<text x="506.5" y="41.50" style="font-family:'Liberation Serif',serif;font-weight:bold;fill:#111;font-size:13px">CF+S</text>
<path d="M481.2,54.00H500" stroke="#777" stroke-width="0.9"/>
<circle cx="490.50" cy="54.00" r="3.59" fill="#2f6cb3"/>
<text x="506.5" y="58.60" style="font-family:'Liberation Serif',serif;font-weight:bold;fill:#111;font-size:13px">CF+B</text>
<path d="M481.2,71.10H500" stroke="#777" stroke-width="0.9"/>
<polygon points="486.39,74.43 494.61,74.43 490.50,67.15" fill="#f4d12b"/>
<text x="506.5" y="75.70" style="font-family:'Liberation Serif',serif;font-weight:bold;fill:#111;font-size:13px">OF</text>
<path d="M481.2,88.20H500" stroke="#777" stroke-width="0.9"/>
<polygon points="486.39,84.87 494.61,84.87 490.50,92.15" fill="#1ec31e"/>
<text x="506.5" y="92.80" style="font-family:'Liberation Serif',serif;font-weight:bold;fill:#111;font-size:13px">OF+S</text>
<path d="M481.2,105.30H500" stroke="#777" stroke-width="0.9"/>
<polygon points="486.13,105.30 490.50,100.93 494.87,105.30 490.50,109.67" fill="#2ba3e6"/>
<text x="506.5" y="109.90" style="font-family:'Liberation Serif',serif;font-weight:bold;fill:#111;font-size:13px">OF+B</text>
</svg>
</body></html>
